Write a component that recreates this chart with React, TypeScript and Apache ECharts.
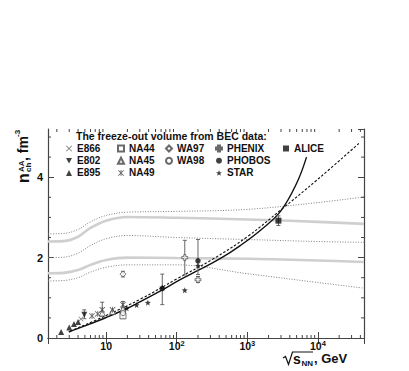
import React, { useEffect, useRef } from 'react';
import * as echarts from 'echarts';

const FONT = '"Liberation Sans", Arial, Helvetica, sans-serif';
const X_MIN = 1.5;
const X_MAX = 45000;
const Y_MIN = 0;
const Y_MAX = 5.2;

// ---- model curves ----
const BAND_X = [1.5, 2.5, 4, 6, 10, 20, 100, 1000, 10000, 45000];
const GRAY_UPPER = [2.40, 2.41, 2.52, 2.74, 2.92, 3.01, 2.99, 2.95, 2.89, 2.84];
const GRAY_LOWER = [1.61, 1.62, 1.69, 1.82, 1.94, 2.00, 1.99, 1.97, 1.93, 1.89];
const DOT_UPPER = [2.59, 2.60, 2.70, 2.89, 3.05, 3.13, 3.15, 3.20, 3.37, 3.51];
const DOT_MIDDLE = [2.00, 2.01, 2.11, 2.30, 2.47, 2.55, 2.50, 2.45, 2.40, 2.38];
const DOT_LOWER = [1.42, 1.43, 1.50, 1.64, 1.76, 1.82, 1.82, 1.60, 1.38, 1.24];

const FIT_X = [2.95, 5, 10, 20, 31.6, 59, 112, 200, 417, 794, 1585, 2950, 5000, 6900];
const FIT_Y = [0.15, 0.30, 0.51, 0.74, 0.92, 1.17, 1.45, 1.68, 1.98, 2.30, 2.70, 3.15, 3.85, 4.5];

const DASH_X = [3.1, 10, 31.6, 100, 316, 1000, 2950, 10000, 38000];
const DASH_Y = [0.17, 0.56, 0.98, 1.47, 1.95, 2.52, 3.18, 3.95, 4.84];

// ---- data points: [sqrt(sNN), n_ch] ----
const E866 = [[4.4, 0.47]];
const E802 = [[4.9, 0.58]];
const E895 = [[2.3, 0.15], [3.0, 0.26], [3.5, 0.35], [4.0, 0.40]];
const NA44 = [[17.3, 0.55]];
const NA45 = [[8.8, 0.62], [12.3, 0.66], [17.3, 0.72]];
const NA49 = [[6.3, 0.55], [7.6, 0.60], [8.8, 0.70], [12.3, 0.70], [17.3, 0.83]];
const WA97 = [[17.3, 1.59]];
const WA98 = [[17.3, 0.62]];
const PHENIX = [[130, 2.0], [200, 1.45]];
const PHOBOS = [[62.4, 1.23], [200, 1.92]];
const STAR = [[19.6, 0.74], [27, 0.82], [39, 0.88], [62.4, 1.26], [130, 1.19], [200, 1.80]];
const ALICE = [[2760, 2.92]];

// error bars: [x, low, high]
const ERRORS = [
  [4.9, 0.48, 0.70],
  [8.8, 0.55, 0.89],
  [17.3, 0.75, 0.91],
  [17.3, 0.49, 0.61],
  [17.3, 1.52, 1.66],
  [62.4, 0.83, 1.59],
  [130, 1.57, 2.43],
  [200, 1.58, 2.45],
  [200, 1.38, 1.53],
  [2760, 2.80, 3.04],
];

const LEGEND_COLS = [
  ['E866', 'E802', 'E895'],
  ['NA44', 'NA45', 'NA49'],
  ['WA97', 'WA98'],
  ['PHENIX', 'PHOBOS', 'STAR'],
  ['ALICE'],
];
const LEGEND_LEFT = [66, 117, 165, 215, 283];

const X_TICKS_MAJOR = [10, 100, 1000, 10000];
const Y_TICKS_MINOR = [0.5, 1, 1.5, 2.5, 3, 3.5, 4.5, 5];

// ---- symbol shapes ----
const starPath = (() => {
  let d = '';
  for (let i = 0; i < 10; i++) {
    const r = i % 2 ? 0.42 : 1;
    const a = -Math.PI / 2 + (i * Math.PI) / 5;
    d += (i ? 'L' : 'M') + (5 + 5 * r * Math.cos(a)).toFixed(2) + ',' + (5 + 5 * r * Math.sin(a)).toFixed(2);
  }
  return 'path://' + d + 'Z';
})();
const CROSS = 'path://M0,1L1,0L5,4L9,0L10,1L6,5L10,9L9,10L5,6L1,10L0,9L4,5Z';
const ASTER = 'path://M0,1L1,0L5,4L9,0L10,1L6,5L10,9L9,10L5,6L1,10L0,9L4,5ZM4.3,0L5.7,0L5.7,10L4.3,10Z';
const DOWN_TRI = 'path://M0,0L10,0L5,9Z';
const PLUS_OPEN = 'path://M3.3,0L6.7,0L6.7,3.3L10,3.3L10,6.7L6.7,6.7L6.7,10L3.3,10L3.3,6.7L0,6.7L0,3.3L3.3,3.3Z';

const FILLED = { color: '#111', borderColor: '#111', borderWidth: 0 };
const HOLLOW = { color: '#fff', borderColor: '#444', borderWidth: 0.9 };

const EXPERIMENTS: any[] = [
  { name: 'E866', data: E866, symbol: CROSS, size: 5, style: { color: '#555' } },
  { name: 'E802', data: E802, symbol: DOWN_TRI, size: 6, style: FILLED },
  { name: 'E895', data: E895, symbol: 'triangle', size: 6, style: FILLED },
  { name: 'NA44', data: NA44, symbol: 'rect', size: 6, style: HOLLOW },
  { name: 'NA45', data: NA45, symbol: 'triangle', size: 6, style: HOLLOW },
  { name: 'NA49', data: NA49, symbol: ASTER, size: 6, style: { color: '#444' } },
  { name: 'WA97', data: WA97, symbol: 'diamond', size: 6, style: HOLLOW },
  { name: 'WA98', data: WA98, symbol: 'circle', size: 5, style: HOLLOW },
  { name: 'PHENIX', data: PHENIX, symbol: PLUS_OPEN, size: 6, style: HOLLOW },
  { name: 'PHOBOS', data: PHOBOS, symbol: 'circle', size: 5.5, style: FILLED },
  { name: 'STAR', data: STAR, symbol: starPath, size: 6, style: FILLED },
  { name: 'ALICE', data: ALICE, symbol: 'rect', size: 6, style: FILLED },
];

const pair = (xs: number[], ys: number[]) => xs.map((x, i) => [x, ys[i]]);

export default function App() {
  const ref = useRef<HTMLDivElement>(null);

  useEffect(() => {
    if (!ref.current) return;
    const chart = echarts.init(ref.current, null, { renderer: 'svg' });

    const minorX: number[][] = [];
    for (let k = 0; k <= 4; k++) {
      for (let m = 2; m <= 9; m++) {
        const v = m * Math.pow(10, k);
        if (v > X_MIN && v < X_MAX) minorX.push([v, 0]);
      }
    }

    const lineSeries = (name: string, xs: number[], ys: number[], style: any, smooth = 0.35) => ({
      type: 'line',
      name,
      data: pair(xs, ys),
      showSymbol: false,
      symbol: 'none',
      smooth,
      silent: true,
      lineStyle: style,
      z: 1,
    });

    const grayStyle = { color: '#cfcfcf', width: 2.6 };
    const dotStyle = { color: '#808080', width: 1, type: [1, 1.6] };

    const option: any = {
      animation: false,
      backgroundColor: '#fff',
      grid: { left: 48, top: 129, width: 316, height: 209, containLabel: false },
      xAxis: [
        {
          type: 'log',
          logBase: 10,
          min: X_MIN,
          max: X_MAX,
          position: 'bottom',
          axisLine: { show: true, lineStyle: { color: '#444', width: 1.2 } },
          axisTick: { show: true, inside: true, length: 6, lineStyle: { color: '#444' } },
          splitLine: { show: false },
          axisLabel: {
            showMinLabel: false,
            showMaxLabel: false,
            margin: 1,
            color: '#111',
            fontFamily: FONT,
            formatter: (v: number) => {
              const e = Math.round(Math.log10(v));
              if (!X_TICKS_MAJOR.some((t) => Math.abs(Math.log10(t) - Math.log10(v)) < 1e-6)) return '';
              return e === 1 ? '{b|10}' : `{b|10}{s|${e}}`;
            },
            rich: {
              b: { fontSize: 10.5, fontWeight: 'bold', fontFamily: FONT, color: '#111', lineHeight: 13 },
              s: { fontSize: 7.5, fontWeight: 'bold', fontFamily: FONT, color: '#111', lineHeight: 8, verticalAlign: 'top' },
            },
          },
        },
        {
          type: 'log',
          logBase: 10,
          min: X_MIN,
          max: X_MAX,
          position: 'top',
          axisLine: { show: true, lineStyle: { color: '#444', width: 1.2 } },
          axisTick: { show: true, inside: true, length: 6, lineStyle: { color: '#444' } },
          axisLabel: { show: false },
          splitLine: { show: false },
        },
      ],
      yAxis: [
        {
          type: 'value',
          min: Y_MIN,
          max: Y_MAX,
          interval: 2,
          position: 'left',
          axisLine: { show: true, lineStyle: { color: '#444', width: 1.2 } },
          axisTick: { show: true, inside: true, length: 6, lineStyle: { color: '#444' } },
          splitLine: { show: false },
          axisLabel: {
            showMaxLabel: false,
            margin: 5,
            fontSize: 11,
            fontWeight: 'bold',
            fontFamily: FONT,
            color: '#111',
          },
        },
        {
          type: 'value',
          min: Y_MIN,
          max: Y_MAX,
          interval: 2,
          position: 'right',
          axisLine: { show: true, lineStyle: { color: '#444', width: 1.2 } },
          axisTick: { show: true, inside: true, length: 6, lineStyle: { color: '#444' } },
          axisLabel: { show: false },
          splitLine: { show: false },
        },
      ],
      legend: LEGEND_COLS.map((names, i) => ({
        left: LEGEND_LEFT[i],
        top: 143.5,
        orient: 'vertical',
        itemWidth: 6,
        itemHeight: 6,
        itemGap: 2.2,
        selectedMode: false,
        padding: 0,
        textStyle: { fontSize: 10, fontWeight: 'bold', fontFamily: FONT, color: '#111', lineHeight: 10 },
        data: names,
      })),
      graphic: [
        {
          type: 'text',
          left: 76,
          top: 130,
          style: { text: 'The freeze-out volume from BEC data:', font: `bold 10.5px ${FONT}`, fill: '#111' },
        },
        {
          type: 'group',
          x: 28,
          y: 183,
          rotation: Math.PI / 2,
          children: [
            { type: 'text', x: 0, y: -5, style: { text: 'n', font: `bold 16px ${FONT}`, fill: '#111', verticalAlign: 'middle' } },
            { type: 'text', x: 11, y: -7, style: { text: 'AA', font: `bold 8px ${FONT}`, fill: '#111', verticalAlign: 'middle' } },
            { type: 'text', x: 11, y: 0, style: { text: 'ch', font: `bold 8px ${FONT}`, fill: '#111', verticalAlign: 'middle' } },
            { type: 'text', x: 22, y: -5, style: { text: ', fm', font: `bold 14px ${FONT}`, fill: '#111', verticalAlign: 'middle' } },
            { type: 'text', x: 46, y: -11, style: { text: '-3', font: `bold 8px ${FONT}`, fill: '#111', verticalAlign: 'middle' } },
          ],
        },
        {
          type: 'polyline',
          shape: { points: [[283, 358], [285.5, 356.5], [288.5, 364.5], [292.5, 352], [313, 352]] },
          style: { stroke: '#111', lineWidth: 1.2, fill: null },
        },
        { type: 'text', x: 293, y: 359, style: { text: 's', font: `bold 14px ${FONT}`, fill: '#111', verticalAlign: 'middle' } },
        { type: 'text', x: 301.5, y: 363, style: { text: 'NN', font: `bold 8px ${FONT}`, fill: '#111', verticalAlign: 'middle' } },
        { type: 'text', x: 314, y: 358, style: { text: ', GeV', font: `bold 13px ${FONT}`, fill: '#111', verticalAlign: 'middle' } },
      ],
      series: [
        lineSeries('grayUpper', BAND_X, GRAY_UPPER, grayStyle),
        lineSeries('grayLower', BAND_X, GRAY_LOWER, grayStyle),
        lineSeries('dotUpper', BAND_X, DOT_UPPER, dotStyle),
        lineSeries('dotMiddle', BAND_X, DOT_MIDDLE, dotStyle),
        lineSeries('dotLower', BAND_X, DOT_LOWER, dotStyle),
        lineSeries('fit', FIT_X, FIT_Y, { color: '#111', width: 1.4 }, 0.4),
        lineSeries('fitDash', DASH_X, DASH_Y, { color: '#111', width: 1.1, type: [2.5, 1.8] }, 0.4),
        {
          type: 'custom',
          name: 'minorX',
          silent: true,
          data: minorX,
          encode: { x: 0, y: 1 },
          clip: false,
          renderItem: (params: any, api: any) => {
            const v = api.value(0);
            const b = api.coord([v, Y_MIN]);
            const t = api.coord([v, Y_MAX]);
            return {
              type: 'group',
              children: [
                { type: 'line', shape: { x1: b[0], y1: b[1], x2: b[0], y2: b[1] - 3 }, style: { stroke: '#444', lineWidth: 1 } },
                { type: 'line', shape: { x1: t[0], y1: t[1], x2: t[0], y2: t[1] + 3 }, style: { stroke: '#444', lineWidth: 1 } },
              ],
            };
          },
        },
        {
          type: 'custom',
          name: 'minorY',
          silent: true,
          data: Y_TICKS_MINOR.map((v) => [X_MIN * 2, v]),
          encode: { x: 0, y: 1 },
          clip: false,
          renderItem: (params: any, api: any) => {
            const v = api.value(1);
            const l = api.coord([X_MIN, v]);
            const r = api.coord([X_MAX, v]);
            return {
              type: 'group',
              children: [
                { type: 'line', shape: { x1: l[0], y1: l[1], x2: l[0] + 3, y2: l[1] }, style: { stroke: '#444', lineWidth: 1 } },
                { type: 'line', shape: { x1: r[0], y1: r[1], x2: r[0] - 3, y2: r[1] }, style: { stroke: '#444', lineWidth: 1 } },
              ],
            };
          },
        },
        {
          type: 'custom',
          name: 'errors',
          silent: true,
          data: ERRORS,
          encode: { x: 0, y: [1, 2] },
          z: 2,
          renderItem: (params: any, api: any) => {
            const x = api.value(0);
            const lo = api.coord([x, api.value(1)]);
            const hi = api.coord([x, api.value(2)]);
            const st = { stroke: '#666', lineWidth: 1 };
            return {
              type: 'group',
              children: [
                { type: 'line', shape: { x1: lo[0], y1: lo[1], x2: hi[0], y2: hi[1] }, style: st },
                { type: 'line', shape: { x1: lo[0] - 2, y1: lo[1], x2: lo[0] + 2, y2: lo[1] }, style: st },
                { type: 'line', shape: { x1: hi[0] - 2, y1: hi[1], x2: hi[0] + 2, y2: hi[1] }, style: st },
              ],
            };
          },
        },
        ...EXPERIMENTS.map((e) => ({
          type: 'scatter',
          name: e.name,
          data: e.data,
          symbol: e.symbol,
          symbolSize: e.size,
          itemStyle: e.style,
          z: 3,
        })),
      ],
    };

    chart.setOption(option);
    return () => chart.dispose();
  }, []);

  return (
    <div
      ref={ref}
      style={{ position: 'fixed', left: 0, top: 0, width: 409, height: 371, background: '#fff' }}
    />
  );
}
